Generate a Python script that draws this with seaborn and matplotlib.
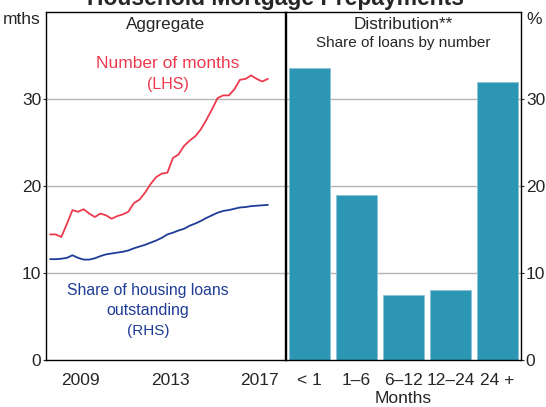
import numpy as np
import pandas as pd
import matplotlib
matplotlib.use("Agg")
import matplotlib.pyplot as plt
import seaborn as sns

# Aggregate panel: quarterly series, 2008Q1 - 2017Q4
quarters = pd.period_range("2008Q1", "2017Q4", freq="Q")
months_to_repay = [14.4, 14.4, 14.1, 15.6, 17.2, 17.0, 17.3, 16.8, 16.4, 16.8,
                   16.6, 16.2, 16.5, 16.7, 17.0, 18.0, 18.4, 19.2, 20.2, 21.0,
                   21.4, 21.5, 23.2, 23.6, 24.6, 25.2, 25.7, 26.5, 27.6, 28.8,
                   30.1, 30.4, 30.4, 31.1, 32.2, 32.3, 32.7, 32.3, 32.0, 32.3]
share_outstanding = [11.55, 11.55, 11.6, 11.7, 12.0, 11.7, 11.5, 11.5, 11.65, 11.9,
                     12.1, 12.2, 12.3, 12.4, 12.55, 12.8, 13.0, 13.2, 13.45, 13.7,
                     14.0, 14.4, 14.6, 14.85, 15.05, 15.4, 15.65, 15.95, 16.3, 16.6,
                     16.9, 17.1, 17.2, 17.35, 17.5, 17.55, 17.65, 17.7, 17.75, 17.8]

# Distribution panel
buckets = ["< 1", "1\u20136", "6\u201312", "12\u201324", "24 +"]
share_of_loans = [33.5, 18.9, 7.4, 8.0, 31.9]

year_ticks = [2009, 2013, 2017]

RED = "#EC3A4E"
BLUE = "#1E3C96"
TEAL = "#2C96B4"
GRID = "#B4B4B4"

sns.set_style("white")
plt.rcParams["font.family"] = ["Liberation Sans", "DejaVu Sans"]
plt.rcParams["font.size"] = 12

df = pd.DataFrame({
    "x": quarters.year + (quarters.quarter - 1) / 4 + 0.125,
    "months": months_to_repay,
    "share": share_outstanding,
})
bars = pd.DataFrame({"bucket": buckets, "share": share_of_loans})

W, H = 546, 407
fig = plt.figure(figsize=(W / 100, H / 100), dpi=100)
bottom = 1 - 359.5 / H
height = (359.5 - 12) / H
ax1 = fig.add_axes([46 / W, bottom, (284.5 - 46) / W, height])
ax2 = fig.add_axes([285.5 / W, bottom, (521 - 285.5) / W, height])

for ax in (ax1, ax2):
    ax.set_ylim(0, 40)
    ax.set_yticks([0, 10, 20, 30])
    for y in (10, 20, 30):
        ax.axhline(y, color=GRID, lw=1, zorder=0)
    for s in ax.spines.values():
        s.set_color("black")
        s.set_linewidth(1)

# left panel
sns.lineplot(data=df, x="x", y="months", ax=ax1, color=RED, lw=1.3)
sns.lineplot(data=df, x="x", y="share", ax=ax1, color=BLUE, lw=1.3)
ax1.set_xlim(2007.94, 2018.62)
ax1.set_xticks([y + 0.5 for y in year_ticks])
ax1.set_xticklabels([str(y) for y in year_ticks])
ax1.set_xticks(range(2009, 2019), minor=True)
ax1.tick_params(axis="x", which="major", length=0, pad=10, labelsize=12.5)
ax1.tick_params(axis="x", which="minor", direction="in", length=5, width=0.8)
ax1.tick_params(axis="y", length=2, pad=1.5, labelsize=12.5, left=True)
ax1.set_xlabel("")
ax1.set_ylabel("")
ax1.text(0.5, 0.985, "Aggregate", transform=ax1.transAxes, ha="center", va="top", fontsize=12.3)
ax1.text(2013.4, 34.1, "Number of months", color=RED, ha="center", va="center", fontsize=12.5)
ax1.text(2013.4, 31.6, "(LHS)", color=RED, ha="center", va="center", fontsize=11.5)
ax1.text(2012.5, 8.0, "Share of housing loans", color=BLUE, ha="center", va="center", fontsize=11.3)
ax1.text(2012.5, 5.6, "outstanding", color=BLUE, ha="center", va="center", fontsize=11.5)
ax1.text(2012.5, 3.3, "(RHS)", color=BLUE, ha="center", va="center", fontsize=11)

# right panel
sns.barplot(data=bars, x="bucket", y="share", ax=ax2, color=TEAL, saturation=1,
            width=0.87, edgecolor="#8CC4D6", linewidth=0.6, zorder=2)
ax2.set_xlim(-0.5, 4.5)
ax2.set_ylim(0, 40)
ax2.yaxis.tick_right()
ax2.tick_params(axis="y", length=2, pad=1.5, labelsize=12.5, right=True, left=False)
ax2.set_xticks([0.5, 1.5, 2.5, 3.5], minor=True)
ax2.tick_params(axis="x", which="major", length=0, pad=10, labelsize=12.5)
ax2.tick_params(axis="x", which="minor", direction="in", length=5, width=0.8)
ax2.set_xlabel("Months", fontsize=12.5, labelpad=2)
ax2.set_ylabel("")
ax2.text(0.5, 0.985, "Distribution**", transform=ax2.transAxes, ha="center", va="top", fontsize=12.3)
ax2.text(0.5, 0.93, "Share of loans by number", transform=ax2.transAxes, ha="center", va="top", fontsize=11)

fig.text(22 / W, 1 - 20 / H, "mths", ha="center", va="center", fontsize=12.5)
fig.text(534 / W, 1 - 20 / H, "%", ha="center", va="center", fontsize=12.5)
fig.text(0.505, 1 - 5 / H, "Household Mortgage Prepayments", ha="center", va="baseline",
         fontsize=16.5, fontweight="bold")

fig.savefig("out.png", dpi=100)
